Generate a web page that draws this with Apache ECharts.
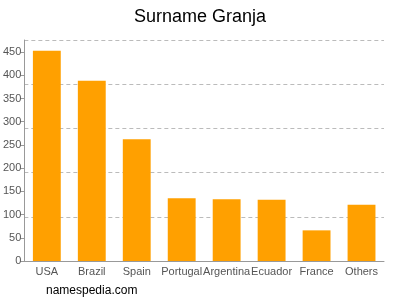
<!DOCTYPE html>
<html><head><meta charset="utf-8">
<script src="https://cdn.jsdelivr.net/npm/echarts@6/dist/echarts.min.js"></script>
<style>html,body{margin:0;padding:0;background:#fff}#c{width:400px;height:300px}</style>
</head><body><div id="c"></div>
<script>
const categories = ["USA","Brazil","Spain","Portugal","Argentina","Ecuador","France","Others"];
const values = [453, 388, 262, 135, 133, 132, 66, 121];
const yTicks = [0, 50, 100, 150, 200, 250, 300, 350, 400, 450];
const axisMax = 476;

const chart = echarts.init(document.getElementById('c'), null, {renderer:'canvas'});
chart.setOption({
  animation: false,
  title: {text: 'Surname Granja', left: 'center', top: 3,
    textStyle: {fontFamily: 'Liberation Sans, Arial, sans-serif', fontSize: 18, fontWeight: 'normal', color: '#000'}},
  graphic: [{type: 'text', left: 46, top: 285, style: {text: 'namespedia.com', fontFamily: 'Liberation Sans, Arial, sans-serif', fontSize: 12, fill: '#000'}}],
  grid: {left: 24, right: 16, top: 40, bottom: 39, containLabel: false},
  xAxis: {type: 'category', data: categories,
    axisLine: {lineStyle: {color: '#999'}},
    axisTick: {alignWithLabel: true, length: 4, lineStyle: {color: '#999'}},
    axisLabel: {color: '#555', fontSize: 11, fontFamily: 'Liberation Sans, Arial, sans-serif', margin: 5, interval: 0}},
  yAxis: [{type: 'value', min: 0, max: axisMax, interval: 50,
    axisLine: {show: true, lineStyle: {color: '#999'}},
    axisTick: {show: true, length: 4, lineStyle: {color: '#999'}},
    axisLabel: {color: '#555', fontSize: 11, fontFamily: 'Liberation Sans, Arial, sans-serif', margin: 3, showMaxLabel: false,
      formatter: v => yTicks.includes(v) ? String(v) : ''},
    splitLine: {show: false}},
   {type: 'value', min: 0, max: axisMax, interval: axisMax/5, position: 'left',
    axisLine: {show: false}, axisTick: {show: false}, axisLabel: {show: false},
    splitLine: {show: true, lineStyle: {color: '#bbb', type: [4, 3]}}}],
  series: [{type: 'bar', data: values, barWidth: '62%', itemStyle: {color: '#FFA000'}}]
});
</script></body></html>
